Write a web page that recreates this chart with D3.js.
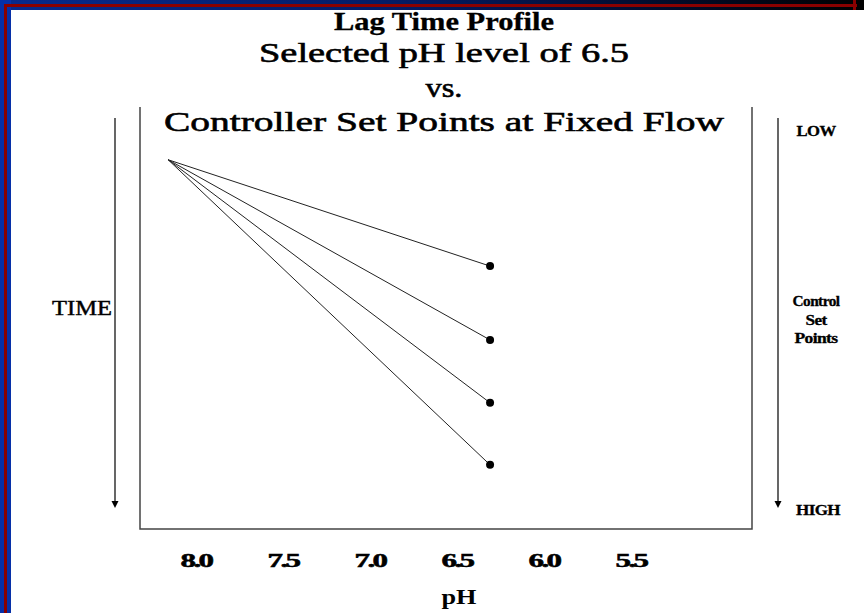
<!DOCTYPE html>
<html>
<head>
<meta charset="utf-8">
<script src="https://cdn.jsdelivr.net/npm/d3@7"></script>
<style>
  body { margin: 0; background: #fff; }
  svg { display: block; }
</style>
</head>
<body>
<div id="chart"></div>
<script>
var titleLines = ['Lag Time Profile', 'Selected pH level of 6.5', 'vs.', 'Controller Set Points at Fixed Flow']
var phTicks = [8.0, 7.5, 7.0, 6.5, 6.0, 5.5]
var startPoint = { ph: 8.16, time: 1.25 }
var endPh = 6.31
var setPointTimes = [3.77, 5.52, 7.01, 8.48]
var setPointLabels = ['Control', 'Set', 'Points']

var width = 864,
	height = 613

var serif = '"Liberation Serif", "Times New Roman", serif'

var svg = d3.select('#chart').append('svg')
	.attr('width', width)
	.attr('height', height)

// frame strips (top + left)
var defs = svg.append('defs')
var grad = defs.append('linearGradient').attr('id', 'topfade')
	.attr('x1', 0).attr('x2', 1).attr('y1', 0).attr('y2', 0)
grad.append('stop').attr('offset', '0%').attr('stop-color', '#062a8e')
grad.append('stop').attr('offset', '45%').attr('stop-color', '#041c66')
grad.append('stop').attr('offset', '100%').attr('stop-color', '#000')

svg.append('rect').attr('x', 0).attr('y', 0).attr('width', width).attr('height', 10).attr('fill', 'url(#topfade)')
svg.append('rect').attr('x', 0).attr('y', 0).attr('width', 11).attr('height', height).attr('fill', '#0630a8')
svg.append('rect').attr('x', 4).attr('y', 4).attr('width', 853).attr('height', 3).attr('fill', '#8a0000')
svg.append('rect').attr('x', 4).attr('y', 4).attr('width', 3).attr('height', height).attr('fill', '#8a0000')
svg.append('rect').attr('x', 853).attr('y', 0).attr('width', 3).attr('height', 10).attr('fill', '#8a0000')

var x = d3.scaleLinear()
	.domain([8.0, 5.5])
	.range([196, 631])

var y = d3.scaleLinear()
	.domain([0, 10])
	.range([107, 529])

// plot box (open on top)
svg.append('path')
	.attr('d', 'M140,107V529H752V107')
	.attr('fill', 'none')
	.attr('stroke', '#444')
	.attr('stroke-width', 1.5)

// titles
var titleY = [30, 62, 97, 131]
var titleW = [220, 370, 37, 560]
svg.selectAll('.title')
	.data(titleLines)
	.enter().append('text')
	.attr('class', 'title')
	.attr('x', 444)
	.attr('y', function (d, i) { return titleY[i] })
	.attr('text-anchor', 'middle')
	.attr('textLength', function (d, i) { return titleW[i] })
	.attr('lengthAdjust', 'spacingAndGlyphs')
	.style('font-family', serif)
	.style('font-weight', function (d, i) { return i == 0 ? 'bold' : 'normal' })
	.style('font-size', function (d, i) { return i == 0 ? '25px' : '28px' })
	.style('stroke', '#000')
	.style('stroke-width', function (d, i) { return i == 0 ? 0.3 : 0.6 })
	.text(function (d) { return d })

// tick labels
svg.selectAll('.tick-label')
	.data(phTicks)
	.enter().append('text')
	.attr('class', 'tick-label')
	.attr('x', function (d) { return x(d) })
	.attr('y', 567)
	.attr('text-anchor', 'middle')
	.attr('textLength', 31)
	.attr('lengthAdjust', 'spacingAndGlyphs')
	.style('font-family', serif)
	.style('font-weight', 'bold')
	.style('font-size', '18px')
	.style('letter-spacing', '-1.5px')
	.style('stroke', '#000').style('stroke-width', 0.5)
	.text(function (d) { return d.toFixed(1) })

svg.append('text')
	.attr('x', 459).attr('y', 604)
	.attr('text-anchor', 'middle')
	.attr('textLength', 35)
	.attr('lengthAdjust', 'spacingAndGlyphs')
	.style('font-family', serif)
	.style('font-weight', 'bold')
	.style('font-size', '22px')
	.text('pH')

// side arrows
function arrow(ax) {
	svg.append('line')
		.attr('x1', ax).attr('x2', ax)
		.attr('y1', 118).attr('y2', 502)
		.attr('stroke', '#000').attr('stroke-width', 1.2)
	svg.append('path')
		.attr('d', 'M' + (ax - 3.5) + ',501L' + (ax + 3.5) + ',501L' + ax + ',508Z')
		.attr('fill', '#000')
}
arrow(115)
arrow(778)

svg.append('text')
	.attr('x', 82).attr('y', 315)
	.attr('text-anchor', 'middle')
	.attr('textLength', 60)
	.attr('lengthAdjust', 'spacingAndGlyphs')
	.style('font-family', serif)
	.style('font-size', '20px')
	.style('stroke', '#000').style('stroke-width', 0.4)
	.text('TIME')

function sideText(txt, sx, sy, w) {
	svg.append('text')
		.attr('x', sx).attr('y', sy)
		.attr('text-anchor', 'middle')
		.attr('textLength', w)
		.attr('lengthAdjust', 'spacingAndGlyphs')
		.style('font-family', serif).style('font-weight', 'bold').style('font-size', '14px')
		.style('letter-spacing', '-0.5px')
		.style('stroke', '#000').style('stroke-width', 0.3)
		.text(txt)
}
sideText('LOW', 816, 136, 39)
sideText('HIGH', 818, 515, 44)
var spW = [47, 21, 43]
setPointLabels.forEach(function (d, i) {
	sideText(d, 816, 306 + i * 18.5, spW[i])
})

// lag lines
svg.selectAll('.lag')
	.data(setPointTimes)
	.enter().append('line')
	.attr('class', 'lag')
	.attr('x1', x(startPoint.ph))
	.attr('y1', y(startPoint.time))
	.attr('x2', x(endPh))
	.attr('y2', function (d) { return y(d) })
	.attr('stroke', '#222')
	.attr('stroke-width', 1)

svg.selectAll('.dot')
	.data(setPointTimes)
	.enter().append('circle')
	.attr('class', 'dot')
	.attr('cx', x(endPh))
	.attr('cy', function (d) { return y(d) })
	.attr('r', 4)
	.attr('fill', '#000')
</script>
</body>
</html>
